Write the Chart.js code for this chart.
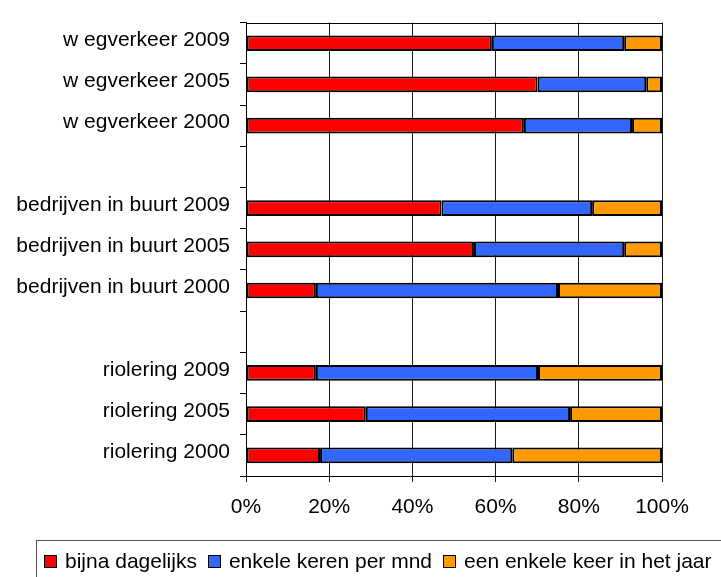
<!DOCTYPE html>
<html>
<head>
<meta charset="utf-8">
<script src="https://cdn.jsdelivr.net/npm/chart.js@4/dist/chart.umd.min.js"></script>
<style>
html,body{margin:0;padding:0;background:#fff;overflow:hidden;}
#wrap{position:relative;width:721px;height:577px;overflow:hidden;background:#fff;}
#c{position:absolute;left:0;top:0;}
#legend{position:absolute;left:36px;top:540px;width:720px;height:42px;box-sizing:border-box;border:1px solid #555;display:flex;align-items:center;padding-left:7px;font:21px 'Liberation Sans',Arial,sans-serif;color:#000;white-space:nowrap;}
#legend .item{display:flex;align-items:center;margin-right:11px;}
#legend .box{width:11px;height:11px;border:1.5px solid #000;margin-right:8px;flex:none;}
</style>
</head>
<body>
<div id="wrap">
<canvas id="c" width="721" height="577"></canvas>
<div id="legend"></div>
</div>
<script>
const categories = [
  'w egverkeer 2009', 'w egverkeer 2005', 'w egverkeer 2000', '',
  'bedrijven in buurt 2009', 'bedrijven in buurt 2005', 'bedrijven in buurt 2000', '',
  'riolering 2009', 'riolering 2005', 'riolering 2000'
];
const seriesNames = ['bijna dagelijks', 'enkele keren per mnd', 'een enkele keer in het jaar'];
const seriesColors = ['#FF0000', '#3366FF', '#FF9900'];
const bijnaDagelijks   = [59.1, 70.1, 66.8, null, 47.0, 54.8, 16.8, null, 16.8, 28.8, 17.8];
const enkeleKerenMnd   = [31.8, 26.1, 26.0, null, 36.2, 36.1, 58.2, null, 53.4, 49.1, 46.2];
const enkeleKeerJaar   = [ 9.1,  3.8,  7.2, null, 16.8,  9.1, 25.0, null, 29.8, 22.1, 36.0];
const xTickValues = [0, 20, 40, 60, 80, 100];

const seriesValues = [bijnaDagelijks, enkeleKerenMnd, enkeleKeerJaar];
const FONT = "'Liberation Sans', Arial, sans-serif";

const frameTop = {
  id: 'frameTop',
  beforeDatasetsDraw(chart) {
    const a = chart.chartArea, ctx = chart.ctx;
    ctx.save();
    ctx.strokeStyle = '#000';
    ctx.lineWidth = 1;
    ctx.beginPath();
    ctx.moveTo(a.left, Math.round(a.top) + 0.5);
    ctx.lineTo(a.right, Math.round(a.top) + 0.5);
    ctx.stroke();
    ctx.restore();
  }
};

new Chart(document.getElementById('c'), {
  type: 'bar',
  data: {
    labels: categories,
    datasets: seriesValues.map((vals, i) => ({
      label: seriesNames[i],
      data: vals,
      backgroundColor: seriesColors[i],
      borderColor: '#000',
      borderWidth: 2,
      borderSkipped: false,
      categoryPercentage: 1,
      barPercentage: 0.38
    }))
  },
  options: {
    indexAxis: 'y',
    responsive: false,
    animation: false,
    devicePixelRatio: 1,
    layout: { padding: { top: 14, right: 59, bottom: 61, left: 0 } },
    plugins: { legend: { display: false }, tooltip: { enabled: false } },
    scales: {
      y: {
        type: 'category',
        stacked: true,
        grid: { display: true, drawOnChartArea: false, drawTicks: true, tickLength: 6, color: '#000', offset: true },
        border: { display: true, color: '#000', width: 1 },
        ticks: { font: { family: FONT, size: 21 }, color: '#000', padding: 10, labelOffset: -3, autoSkip: false },
        afterFit(s) { s.width = 246; }
      },
      x: {
        type: 'linear',
        stacked: true,
        min: 0,
        max: 100,
        afterBuildTicks(s) { s.ticks = xTickValues.map(v => ({ value: v })); },
        ticks: { font: { family: FONT, size: 21 }, color: '#000', padding: 13, maxRotation: 0, callback: v => v + '%' },
        grid: { color: '#1a1a1a', lineWidth: 1, tickLength: 6, drawTicks: true },
        border: { display: true, color: '#000', width: 1 },
        afterFit(s) { s.height = 40; }
      }
    }
  },
  plugins: [frameTop]
});

const legend = document.getElementById('legend');
seriesNames.forEach((name, i) => {
  const item = document.createElement('div');
  item.className = 'item';
  const box = document.createElement('span');
  box.className = 'box';
  box.style.background = seriesColors[i];
  const txt = document.createElement('span');
  txt.textContent = name;
  item.appendChild(box);
  item.appendChild(txt);
  legend.appendChild(item);
});
</script>
</body>
</html>
